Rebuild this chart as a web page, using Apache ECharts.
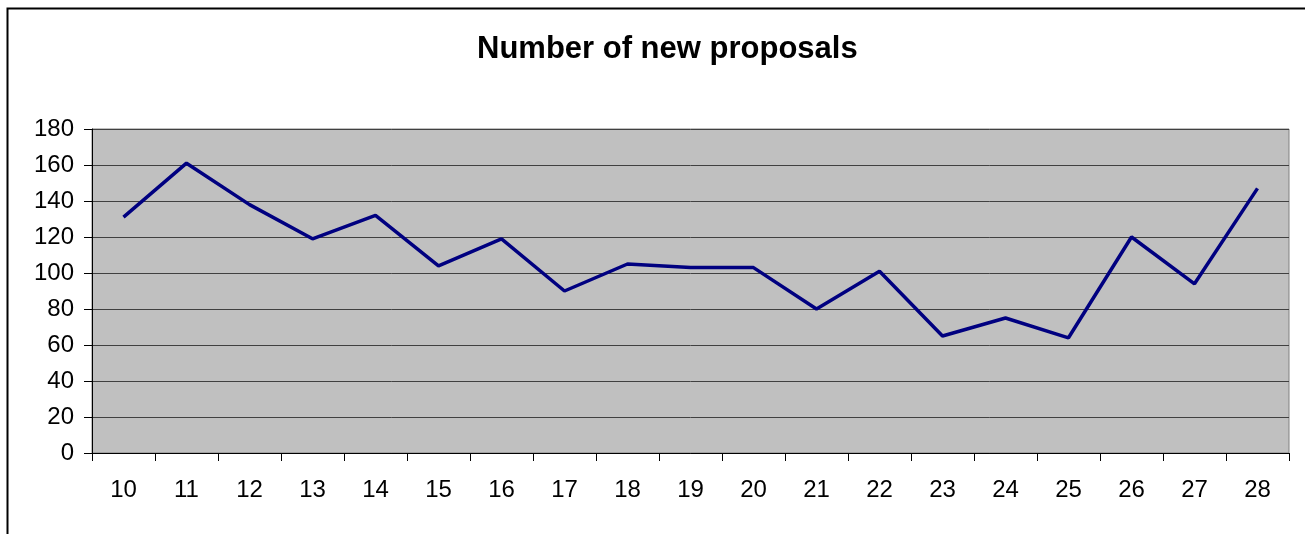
<!DOCTYPE html>
<html>
<head>
<meta charset="utf-8">
<script src="https://cdn.jsdelivr.net/npm/echarts@6/dist/echarts.min.js"></script>
<style>
  html, body { margin: 0; padding: 0; background: #ffffff; }
  #chart { width: 1305px; height: 534px; }
</style>
</head>
<body>
<div id="chart"></div>
<script>
// data
const categories = ["10", "11", "12", "13", "14", "15", "16", "17", "18", "19",
                    "20", "21", "22", "23", "24", "25", "26", "27", "28"];
const proposals = [131, 161, 138, 119, 132, 104, 119, 90, 105, 103,
                   103, 80, 101, 65, 75, 64, 120, 94, 147];
const yTicks = { min: 0, max: 180, interval: 20 };

const chart = echarts.init(document.getElementById("chart"));

const labelFont = {
  color: "#000000",
  fontFamily: "Liberation Sans, Arial, sans-serif",
  fontSize: 24
};

chart.setOption({
  animation: false,
  title: {
    text: "Number of new proposals",
    left: 472,
    top: 29,
    textStyle: {
      color: "#000000",
      fontFamily: "Liberation Sans, Arial, sans-serif",
      fontSize: 31,
      fontWeight: "bold"
    }
  },
  graphic: [
    {
      type: "rect",
      left: 5,
      top: 6,
      shape: { width: 1400, height: 600 },
      style: { fill: "none", stroke: "#000000", lineWidth: 2 }
    }
  ],
  grid: {
    left: 92,
    top: 129,
    right: 16,
    bottom: 81,
    show: true,
    backgroundColor: "#c0c0c0",
    borderColor: "#808080",
    borderWidth: 1
  },
  xAxis: {
    type: "category",
    data: categories,
    boundaryGap: true,
    axisLine: { lineStyle: { color: "#000000", width: 1 } },
    axisTick: { show: true, interval: 0, length: 8, lineStyle: { color: "#000000" } },
    axisLabel: Object.assign({ interval: 0, margin: 25 }, labelFont),
    splitLine: { show: false }
  },
  yAxis: {
    type: "value",
    min: yTicks.min,
    max: yTicks.max,
    interval: yTicks.interval,
    axisLine: { show: true, lineStyle: { color: "#000000", width: 1 } },
    axisTick: { show: true, length: 8, lineStyle: { color: "#000000" } },
    axisLabel: Object.assign({ margin: 18 }, labelFont),
    splitLine: { show: true, lineStyle: { color: "#404040", width: 1 } }
  },
  series: [
    {
      name: "Number of new proposals",
      type: "line",
      data: proposals,
      symbol: "none",
      lineStyle: { color: "#000080", width: 3.5 }
    }
  ]
});
</script>
</body>
</html>
